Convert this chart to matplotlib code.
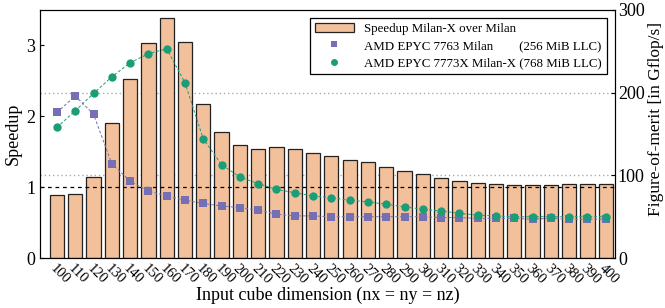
import numpy as np
import matplotlib.pyplot as plt

plt.rcParams["font.family"] = ["Liberation Serif", "DejaVu Serif"]

sizes = list(range(100, 410, 10))

speedup = [0.89, 0.90, 1.14, 1.91, 2.53, 3.03, 3.39, 3.04, 2.17, 1.78,
           1.59, 1.54, 1.57, 1.54, 1.48, 1.44, 1.39, 1.35, 1.29, 1.23,
           1.18, 1.13, 1.09, 1.06, 1.05, 1.03, 1.03, 1.03, 1.04, 1.04, 1.04]

milan = [176, 196, 174, 114, 93, 81, 75, 70, 66, 63,
         61, 58, 53, 51, 51, 50, 50, 50, 50, 50,
         50, 49, 49, 48, 48, 48, 47, 48, 47, 47, 47]

milanx = [158, 178, 199, 219, 236, 247, 253, 212, 144, 113,
          98, 90, 83, 79, 75, 73, 70, 68, 65, 62,
          59, 57, 54, 52, 51, 50, 50, 50, 50, 50, 50]

x = np.arange(len(sizes))

fig = plt.figure(figsize=(6.65, 3.08), dpi=100)
ax = fig.add_axes([0.060, 0.162, 0.865, 0.806])
ax2 = ax.twinx()

# grid of the right axis, behind everything
for v in [100, 200]:
    ax.axhline(v * 3.5 / 300, color="#aaaaaa", linestyle=(0, (1, 2)),
               linewidth=1.0, zorder=0)

# bars on the left axis
ax.bar(x, speedup, width=0.78, color="#f2c09b", edgecolor="#222222",
       linewidth=0.9, label="Speedup Milan-X over Milan", zorder=2)
ax.axhline(1.0, color="black", linestyle=(0, (3, 3)), linewidth=0.9, zorder=3)
ax.set_ylim(0, 3.5)
ax.set_xlim(-0.93, 30.51)
ax.set_yticks([0, 1, 2, 3])
ax.set_ylabel("Speedup", fontsize=13, labelpad=3)
ax.set_xlabel("Input cube dimension (nx = ny = nz)", fontsize=13, labelpad=0)
ax.set_xticks(x)
ax.set_xticklabels([str(s) for s in sizes], rotation=-45, ha="left",
                   va="top", rotation_mode="anchor", fontsize=10.5)
ax.tick_params(axis="y", labelsize=13, direction="in", length=3)
ax.tick_params(axis="x", direction="in", length=3, width=0.8,
               color="#444444", pad=3)
for t in ax.get_xticklines():
    t.set_zorder(4)

# performance on the right axis
ax2.plot(x, milan, linestyle=(0, (3, 2)), linewidth=0.7, color="#7570b3",
         marker="s", markersize=6, markeredgewidth=0,
         label="AMD EPYC 7763 Milan        (256 MiB LLC)", zorder=3)
ax2.plot(x, milanx, linestyle=(0, (3, 2)), linewidth=0.7, color="#1b9e77",
         marker="o", markersize=6, markeredgewidth=0,
         label="AMD EPYC 7773X Milan-X (768 MiB LLC)", zorder=3)
ax2.set_ylim(0, 300)
ax2.set_yticks([0, 100, 200, 300])
ax2.tick_params(axis="y", labelsize=13, direction="in", length=3, pad=2)
ax2.set_ylabel("Figure-of-merit [in Gflop/s]", fontsize=12.5)
ax2.yaxis.set_label_coords(1.058, 0.56)

ax.set_zorder(ax2.get_zorder() - 1)
ax.patch.set_visible(True)
ax.patch.set_facecolor("white")
ax2.patch.set_visible(False)

h1, l1 = ax.get_legend_handles_labels()
h2, l2 = ax2.get_legend_handles_labels()
leg = ax2.legend(h1 + h2, l1 + l2, loc="upper right", fontsize=9.3,
                 fancybox=False, edgecolor="black", framealpha=1,
                 bbox_to_anchor=(0.997, 0.995), handlelength=3,
                 borderpad=0.4, labelspacing=0.4)
leg.get_frame().set_linewidth(0.9)
for line in leg.get_lines():
    line.set_linestyle("none")
    line.set_markersize(5)

fig.savefig("out.png", dpi=100)
